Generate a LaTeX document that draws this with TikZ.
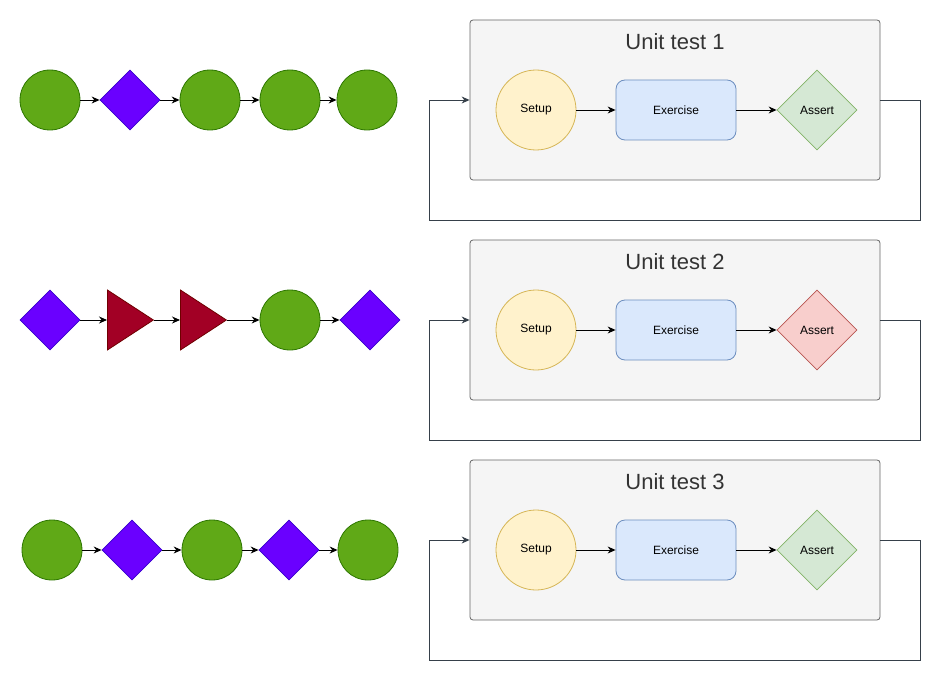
\documentclass[tikz,border=0pt]{standalone}
\usepackage{fontspec}
\setmainfont{Liberation Sans}
\usetikzlibrary{shapes.geometric,arrows.meta}

\definecolor{greenfill}{HTML}{60A917}
\definecolor{greenline}{HTML}{2D7600}
\definecolor{purplefill}{HTML}{6A00FF}
\definecolor{purpleline}{HTML}{3700CC}
\definecolor{redfill}{HTML}{A20025}
\definecolor{redline}{HTML}{6F0000}
\definecolor{setupfill}{HTML}{FFF2CC}
\definecolor{setupline}{HTML}{D6B656}
\definecolor{exfill}{HTML}{DAE8FC}
\definecolor{exline}{HTML}{6C8EBF}
\definecolor{okfill}{HTML}{D5E8D4}
\definecolor{okline}{HTML}{82B366}
\definecolor{failfill}{HTML}{F8CECC}
\definecolor{failline}{HTML}{B85450}
\definecolor{boxfill}{HTML}{F5F5F5}
\definecolor{boxline}{HTML}{666666}
\definecolor{loopline}{HTML}{36404A}

\tikzset{
  dot/.style={circle,fill=greenfill,draw=greenline,line width=0.8pt,minimum size=60pt,inner sep=0pt},
  gem/.style={diamond,fill=purplefill,draw=purpleline,line width=0.8pt,minimum width=60pt,minimum height=60pt,inner sep=0pt},
  wedge/.style={isosceles triangle,isosceles triangle stretches,fill=redfill,draw=redline,line width=0.8pt,
    minimum width=60pt,minimum height=46pt,inner sep=0pt,anchor=west},
  utbox/.style={draw=boxline,fill=boxfill,rounded corners=3pt,line width=0.8pt,minimum width=410pt,minimum height=160pt},
  setupnode/.style={circle,fill=setupfill,draw=setupline,line width=0.8pt,minimum size=80pt,inner sep=0pt,font=\fontsize{12}{14}\selectfont},
  exnode/.style={rectangle,rounded corners=9pt,fill=exfill,draw=exline,line width=0.8pt,minimum width=120pt,minimum height=60pt,font=\fontsize{12}{14}\selectfont},
  assertnode/.style={diamond,line width=0.8pt,minimum width=80pt,minimum height=80pt,inner sep=0pt,font=\fontsize{12}{14}\selectfont},
  chain/.style={->,line width=0.9pt},
  loop/.style={->,draw=loopline,line width=0.9pt}
}

\begin{document}
\begin{tikzpicture}[x=1pt,y=-1pt,>={Stealth[length=8pt,width=7pt]}]
  \useasboundingbox (0,0) rectangle (950,690);

  % first sequence
  \node[dot] (a1) at (50,100) {};
  \node[gem] (a2) at (130,100) {};
  \node[dot] (a3) at (210,100) {};
  \node[dot] (a4) at (290,100) {};
  \node[dot] (a5) at (367,100) {};
  \draw[chain] (a1.east) -- (a2.west);
  \draw[chain] (a2.east) -- (a3.west);
  \draw[chain] (a3.east) -- (a4.west);
  \draw[chain] (a4.east) -- (a5.west);

  % second sequence
  \node[gem] (b1) at (50,320) {};
  \node[wedge] (b2) at (107,320) {};
  \node[wedge] (b3) at (180,320) {};
  \node[dot] (b4) at (290,320) {};
  \node[gem] (b5) at (370,320) {};
  \draw[chain] (b1.east) -- (b2.west);
  \draw[chain] (b2.east) -- (b3.west);
  \draw[chain] (b3.east) -- (b4.west);
  \draw[chain] (b4.east) -- (b5.west);

  % third sequence
  \node[dot] (c1) at (52,550) {};
  \node[gem] (c2) at (132,550) {};
  \node[dot] (c3) at (212,550) {};
  \node[gem] (c4) at (289,550) {};
  \node[dot] (c5) at (368,550) {};
  \draw[chain] (c1.east) -- (c2.west);
  \draw[chain] (c2.east) -- (c3.west);
  \draw[chain] (c3.east) -- (c4.west);
  \draw[chain] (c4.east) -- (c5.west);

  % unit tests
  \foreach \i/\y/\af/\al in {1/100/okfill/okline, 2/320/failfill/failline, 3/540/okfill/okline} {
    \node[utbox] (ut\i) at (675,\y) {};
    \node[text=black!80,font=\fontsize{22}{26}\selectfont] (title\i) at (675,\y-58) {Unit test \i};
    \node[setupnode] (setup\i) at (536,\y+10) {Setup};
    \node[exnode] (ex\i) at (676,\y+10) {Exercise};
    \node[assertnode,fill=\af,draw=\al] (assert\i) at (817,\y+10) {Assert};
    \draw[chain] (setup\i) -- (ex\i);
    \draw[chain] (ex\i) -- (assert\i);
    \draw[loop] (ut\i.east) -- ++(40,0) -- ++(0,120) -| ([xshift=-40pt]ut\i.west) -- (ut\i.west);
  }
\end{tikzpicture}
\end{document}
